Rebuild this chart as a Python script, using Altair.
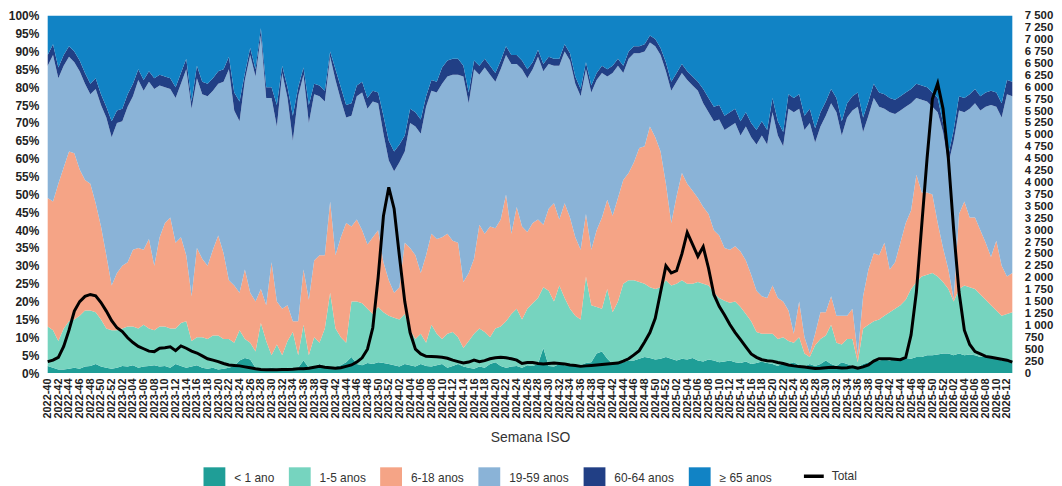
import altair as alt
import pandas as pd

# ISO weeks 2022-40 .. 2026-13
weeks = ([f"2022-{w:02d}" for w in range(40, 53)]
         + [f"{y}-{w:02d}" for y in (2023, 2024, 2025) for w in range(1, 53)]
         + [f"2026-{w:02d}" for w in range(1, 14)])

groups = ["< 1 ano", "1-5 anos", "6-18 anos", "19-59 anos", "60-64 anos", "≥ 65 anos"]
colors = ["#1f9e97", "#76d4bf", "#f5a486", "#8ab3d7", "#213f85", "#1183c5"]

# cumulative share (%) at the top of each age band
top_lt1 = [
    2, 1.5, 1, 1, 1.2, 1.5, 1.2, 1.8, 2, 2.5, 1.8, 1.5, 1.2,
    1.5, 2, 1.8, 2.2, 1.5, 1.8, 2, 2.2, 1.8, 2, 1.5, 2.5, 2,
    1.5, 1.8, 2.2, 1.5, 1.2, 1.5, 1, 1.2, 1.5, 2, 3.5, 4.2, 3.8,
    1.5, 1, 1.2, 1.5, 1.2, 1, 1.5, 1.2, 1.5, 3.5, 1.5, 1.8, 2.5,
    2, 1.5, 1.8, 2.2, 3, 4.5, 2.5, 2.2, 2.8, 2.5, 3, 2.8, 2.5,
    2.2, 1.8, 2.5, 2.2, 1.8, 2.5, 2, 1.8, 2.2, 2.5, 1.5, 2, 2.5,
    1.8, 1.5, 1.2, 1.8, 1.5, 2.5, 3, 2, 1.5, 1.8, 2, 1.5, 2.2,
    2, 2.5, 7, 2, 1.8, 2.5, 2.2, 2, 2.5, 2.2, 2.8, 3, 5.5,
    6, 4, 2.5, 3, 3, 3.5, 3.5, 4, 4.5, 4.2, 3.8, 4, 4.5,
    4, 3.5, 4, 3.8, 4.2, 3.5, 3.2, 3.8, 3.5, 3, 3.2, 3.5, 3,
    2.8, 3.2, 2.5, 2.8, 3.2, 2.8, 2.5, 2, 2.8, 2.5, 3, 2.2, 1.8,
    2.5, 2, 2.5, 3.5, 2.5, 2, 3, 2.5, 2, 1.5, 2.5, 3, 3.5,
    3.5, 3.8, 3.5, 4, 4, 4.2, 4, 4.5, 4.5, 5, 5, 5.2, 5.5,
    5.5, 5, 5.5, 5, 5.2, 5, 4.5, 4.8, 4.5, 4.2, 3.5, 4, 3.5,
]
top_1_5 = [
    13, 12, 9, 12.5, 14.5, 15, 16, 17.5, 17.5, 17, 15, 12.5, 12,
    12, 12.5, 13, 13, 12.5, 13.5, 12.5, 12, 13, 13, 12.5, 12.5, 14,
    14.5, 9, 10, 10, 9.5, 10.5, 10.5, 9.5, 9.5, 8.5, 12, 9.5, 8.5,
    6, 14, 9, 5, 8, 5, 9, 11.5, 5, 13.5, 5, 10, 8.5,
    12.5, 22.5, 12.5, 10, 8.5, 20, 20, 19.5, 18, 16.5, 18.5, 17, 16,
    15.5, 15, 16.5, 12, 9.5, 11, 8.5, 13.5, 11, 9.5, 11, 11.5, 10,
    7, 9, 11, 12.5, 11.5, 10, 12.5, 13, 14.5, 16.5, 18, 15, 18,
    19.5, 21, 24, 23, 20, 24.5, 21, 18, 16, 15, 27, 19, 18.5,
    18, 23.5, 17, 20, 25, 26, 26, 25.5, 25, 24, 23.5, 24, 26,
    24.5, 25, 26, 25, 25, 25.5, 25, 24.5, 22.5, 21, 20.2, 19.7, 20,
    18.5, 16.5, 14.5, 11.5, 11, 11, 11, 9.5, 10, 9, 8.5, 10, 5.5,
    4.5, 7.8, 9.5, 10.5, 13.5, 8.5, 8, 9.5, 9.5, 3, 12.5, 13.5, 14.5,
    15, 16, 17, 18, 19, 20.5, 23.5, 25.5, 27, 27.5, 28, 27, 25.5,
    23.5, 20, 23.5, 24.5, 24, 23.5, 22, 20.5, 19, 17.5, 16, 16.5, 17,
]
top_6_18 = [
    49, 48, 53, 57.5, 62, 61.5, 57, 54, 53, 47.5, 41, 33, 24.5,
    28, 30, 31, 34.5, 35, 34.5, 37.5, 30, 38, 42, 43.5, 36.5, 38,
    33, 21.5, 35, 32, 30, 34.5, 38.5, 33.5, 26, 24.5, 22.5, 29, 22.5,
    20, 23.5, 19, 31, 20, 18, 19, 14.5, 14.5, 29, 20.5, 31.5, 33,
    33, 48, 33, 38, 42, 41, 43, 40, 36, 38, 40, 31, 26,
    22.5, 24, 36.5, 35, 33, 28, 33, 39, 37.5, 38, 39, 37, 36.5,
    25.5, 28, 32, 41.5, 39, 41, 40.5, 43, 50, 39, 46.5, 41, 39.5,
    42, 43, 41.5, 46, 47.5, 43, 47.5, 43.5, 38, 34.5, 44.5, 34.5, 40,
    43.5, 48.5, 44, 49, 54, 56, 59, 63, 63.5, 69, 66, 62, 53,
    42, 49.5, 56, 53, 51, 49, 46.5, 44.5, 40, 38.5, 35, 34.5, 35.5,
    34, 31.5, 27.5, 23, 21.5, 21, 24.5, 21, 20, 17.5, 11, 20, 10,
    5.5, 11, 17, 17, 21.5, 16, 16, 16, 18, 5, 21.5, 29, 33.5,
    33, 36.5, 29, 31, 36.5, 42, 45.5, 55.5, 50.5, 50.5, 50, 42, 35,
    29, 20.5, 44.5, 48, 43.5, 43.5, 40, 36.5, 32.5, 37, 30, 27, 28,
]
top_19_59 = [
    86, 89, 82.5, 86, 88.5, 87, 84.5, 81, 78, 79.5, 75, 71.5, 66,
    70, 70.5, 74.5, 77.5, 82, 79, 81.5, 79.5, 80.5, 80, 79.5, 77, 81,
    85, 74, 82.5, 78, 77.5, 79, 81, 81.5, 85, 73.5, 70.5, 82, 89,
    83, 94.5, 77, 77, 69, 84, 77, 65, 77.5, 83.5, 70, 78, 77.5,
    76, 88.5, 82, 76.5, 71.5, 72, 77.5, 78.5, 74, 76, 75.5, 67, 59.5,
    56.5, 59, 62, 70, 69, 67, 74.5, 79, 78.5, 81, 83, 83.5, 83.5,
    83, 75.5, 85, 83.5, 85.5, 83.5, 81.5, 85, 89, 86.5, 86.5, 85, 82.5,
    85, 88.5, 84.5, 86.5, 86, 86, 90, 87.5, 81, 77.5, 85, 78.5, 82,
    84, 83, 84, 86, 84, 88, 89.5, 89.5, 90, 92.5, 91.5, 89, 84.5,
    79, 81.5, 84, 82, 80.5, 79, 75.5, 73, 70.5, 71, 68, 69, 70,
    66.5, 69, 66, 64, 66.5, 64, 73, 66.5, 63.5, 74, 73, 74, 68,
    70, 64.5, 69, 72, 75.5, 73, 66.5, 71.5, 73.5, 74.5, 67.5, 72, 77,
    74.5, 74, 73, 72.5, 73.5, 74.5, 75.5, 77, 76.5, 76, 74.5, 73, 67.5,
    58.5, 65, 73.5, 73, 74, 75.5, 73.5, 74.5, 75, 74.5, 71.5, 78, 77.5,
]
top_60_64 = [
    89, 92, 85.5, 89, 91.5, 90, 87.5, 84, 81, 82.5, 78, 74.5, 70.5,
    73.5, 74, 78, 81, 85, 82, 84.5, 82.5, 83.5, 83, 82.5, 80, 84,
    88, 76, 86, 81.5, 81, 82.5, 84.5, 85, 88.5, 78.5, 76, 84, 91,
    85, 96.5, 80, 80, 75, 86, 80, 72, 80, 85.5, 75, 81, 80.5,
    79, 90, 85, 80, 75, 75.5, 80.5, 81.5, 77, 79, 78.5, 72, 65,
    62, 64, 66.5, 74, 73, 71, 77.5, 82, 81.5, 85.5, 87.5, 88, 88,
    86, 78.5, 87.5, 86, 88, 86, 84, 87.5, 91.5, 89, 89, 87.5, 85,
    87, 90.5, 86.5, 88.5, 88, 88, 92, 89.5, 83, 79.5, 87, 80.5, 84,
    86, 85, 86, 88, 86, 90, 91.5, 91.5, 92, 94.5, 93.5, 91, 87,
    81.5, 84, 86.5, 84.5, 83, 81.5, 79.5, 77, 74.5, 75, 72, 73, 74,
    70.5, 73, 70, 68, 70.5, 68, 77, 70.5, 67.5, 78, 77, 78, 72,
    74, 68.5, 73, 76, 79.5, 77, 70.5, 75.5, 77.5, 78.5, 71.5, 76, 81,
    78.5, 78, 77, 76.5, 77.5, 78.5, 79.5, 81, 80.5, 80, 78.5, 77, 70,
    61, 68, 77.5, 77, 78, 79.5, 77.5, 78.5, 79, 78.5, 75.5, 82, 81.5,
]
# weekly total (right axis)
total = [
    240, 270, 330, 560, 900, 1300, 1500, 1610, 1650, 1620, 1480, 1300, 1100,
    950, 870, 740, 640, 560, 510, 460, 450, 520, 530, 550, 470, 570,
    520, 460, 420, 360, 300, 270, 240, 200, 170, 160, 150, 130, 110,
    90, 75, 70, 70, 70, 72, 75, 80, 90, 90, 100, 120, 140,
    120, 110, 100, 110, 140, 170, 230, 320, 500, 950, 2000, 3300, 3900,
    3450, 2450, 1500, 850, 500, 400, 350, 345, 340, 330, 310, 270, 240,
    210, 230, 270, 240, 260, 300, 320, 330, 320, 300, 270, 200, 220,
    220, 200, 190, 200, 210, 200, 190, 170, 160, 140, 150, 160, 170,
    180, 190, 200, 210, 250, 300, 380, 470, 650, 850, 1150, 1700, 2250,
    2100, 2150, 2500, 2950, 2700, 2450, 2650, 2200, 1650, 1400, 1220, 1020, 850,
    700, 550, 400, 330, 280, 260, 250, 220, 200, 170, 150, 135, 125,
    110, 95, 100, 110, 120, 115, 105, 110, 130, 100, 130, 170, 250,
    300, 300, 300, 290, 280, 330, 800, 1700, 3100, 4500, 5750, 6080, 5550,
    4500, 3000, 1700, 900, 600, 450, 400, 350, 330, 310, 290, 270, 230,
]

bounds = [[0] * len(weeks), top_lt1, top_1_5, top_6_18, top_19_59, top_60_64, [100] * len(weeks)]
rows = []
for k, g in enumerate(groups):
    for i, w in enumerate(weeks):
        rows.append({"week": w, "group": g, "lo": bounds[k][i], "hi": bounds[k + 1][i]})
areas = pd.DataFrame(rows)
line_df = pd.DataFrame({"week": weeks, "total": total, "serie": "Total"})

FONT = "Liberation Sans"

x_axis = alt.Axis(values=weeks[::2], labelAngle=270, labelFontSize=11, labelFontWeight="bold",
                  labelColor="#222222", labelPadding=5, ticks=False, domain=False, grid=False,
                  title="Semana ISO", titleFontSize=14, titleFontWeight="normal",
                  titleColor="#333333", titlePadding=13, labelOverlap=False)

area = alt.Chart(areas).mark_area(opacity=1, interpolate="linear").encode(
    x=alt.X("week:O", sort=weeks, scale=alt.Scale(type="point", padding=0), axis=x_axis),
    y=alt.Y("lo:Q", scale=alt.Scale(domain=[0, 100], nice=False),
            axis=alt.Axis(values=list(range(0, 101, 5)), labelExpr="datum.value + '%'",
                          labelFontSize=12, labelFontWeight="bold", labelColor="#222222",
                          labelPadding=9, ticks=False, domain=False, grid=False, title=None)),
    y2="hi:Q",
    color=alt.Color("group:N", scale=alt.Scale(domain=groups, range=colors),
                    legend=alt.Legend(orient="none", legendX=157, legendY=455, direction="horizontal",
                                      title=None, symbolType="square", symbolSize=484,
                                      symbolStrokeWidth=0, labelFontSize=12, labelColor="#333333",
                                      columnPadding=14, labelOffset=9, padding=0)),
)

line = alt.Chart(line_df).mark_line(strokeWidth=3, interpolate="linear").encode(
    x=alt.X("week:O", sort=weeks, scale=alt.Scale(type="point", padding=0), axis=x_axis),
    y=alt.Y("total:Q", scale=alt.Scale(domain=[0, 7500], nice=False),
            axis=alt.Axis(orient="right", values=list(range(0, 7501, 250)),
                          labelExpr="replace(format(datum.value, ','), ',', ' ')",
                          labelFontSize=11.5, labelFontWeight="bold", labelColor="#222222",
                          labelPadding=12, ticks=False, domain=False, grid=False, title=None)),
    stroke=alt.Stroke("serie:N", scale=alt.Scale(domain=["Total"], range=["#000000"]),
                      legend=alt.Legend(orient="none", legendX=760, legendY=452, title=None,
                                        symbolType="stroke", symbolSize=400, symbolStrokeWidth=3.5,
                                        labelFontSize=12, labelColor="#333333", labelOffset=6,
                                        padding=0)),
)

chart = alt.layer(area, line).resolve_scale(y="independent").properties(
    width=972, height=360,
    autosize=alt.AutoSizeParams(type="none"),
    padding={"left": 40, "top": 6, "right": 42, "bottom": 112},
).configure(font=FONT).configure_view(stroke=None)

chart.save("out.html", embed_options={"renderer": "svg", "actions": False})
